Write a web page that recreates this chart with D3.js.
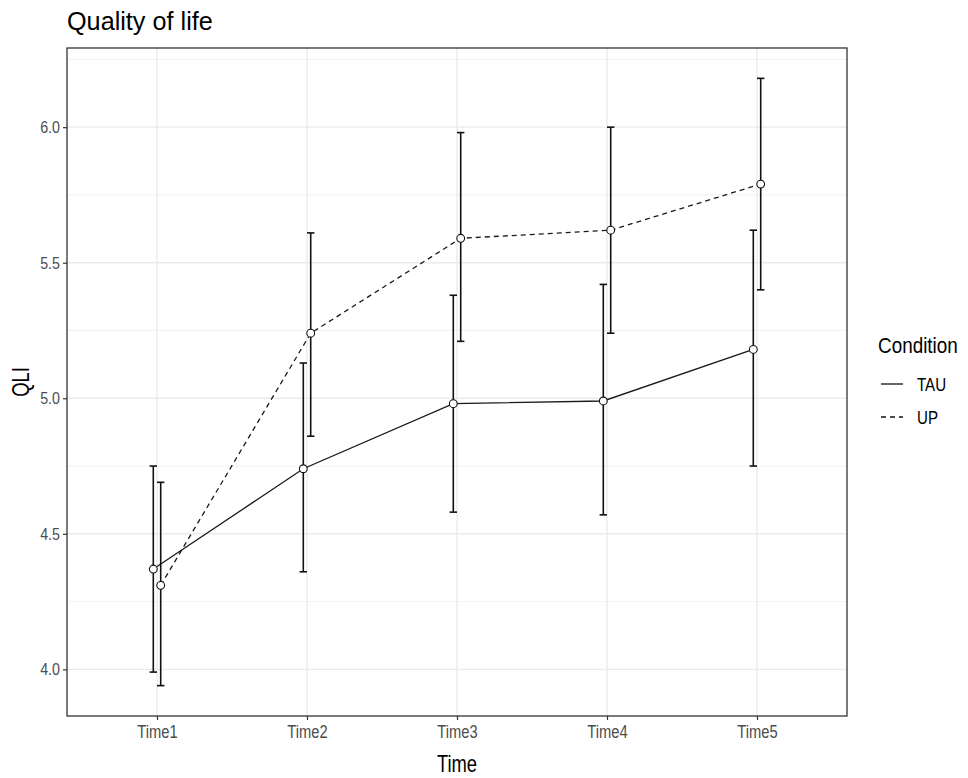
<!DOCTYPE html>
<html>
<head>
<meta charset="utf-8">
<script src="https://cdn.jsdelivr.net/npm/d3@7"></script>
<style>
  body { margin: 0; background: #fff; }
  svg { display: block; font-family: "Liberation Sans", Arial, sans-serif; }
</style>
</head>
<body>
<svg id="chart" width="968" height="778"></svg>
<script>
const times = ["Time1", "Time2", "Time3", "Time4", "Time5"];
const conditions = ["TAU", "UP"];
const tauMean = [4.37, 4.74, 4.98, 4.99, 5.18];
const tauLow  = [3.99, 4.36, 4.58, 4.57, 4.75];
const tauHigh = [4.75, 5.13, 5.38, 5.42, 5.62];
const upMean  = [4.31, 5.24, 5.59, 5.62, 5.79];
const upLow   = [3.94, 4.86, 5.21, 5.24, 5.40];
const upHigh  = [4.69, 5.61, 5.98, 6.00, 6.18];
const yTicks = [4.0, 4.5, 5.0, 5.5, 6.0];
const yMinor = [4.25, 4.75, 5.25, 5.75, 6.25];

const series = [
  { name: "TAU", mean: tauMean, low: tauLow, high: tauHigh, dash: null, offset: -3.7 },
  { name: "UP",  mean: upMean,  low: upLow,  high: upHigh,  dash: "5,4", offset: 3.7 }
];

const SX = 0.84; // horizontal condensing of text to match reference rendering

const svg = d3.select("#chart");
const panel = { left: 67, right: 847, top: 48, bottom: 716 };

const allVals = [...tauLow, ...tauHigh, ...upLow, ...upHigh];
const lo = d3.min(allVals), hi = d3.max(allVals);
const pad = (hi - lo) * 0.05;
const y = d3.scaleLinear().domain([lo - pad, hi + pad]).range([panel.bottom, panel.top]);
const x = d3.scalePoint().domain(times).range([panel.left, panel.right]).padding(0.6);

function ctext(parent, tx, ty, str, size, anchor, sx, fill) {
  return parent.append("text")
    .attr("transform", `translate(${tx},${ty}) scale(${sx},1)`)
    .attr("text-anchor", anchor || "start")
    .attr("fill", fill || "#000")
    .style("font-size", size + "px")
    .text(str);
}

// grid
const g = svg.append("g");
g.selectAll(".minor").data(yMinor.filter(v => v > y.domain()[0] && v < y.domain()[1])).join("line")
  .attr("x1", panel.left).attr("x2", panel.right)
  .attr("y1", d => y(d)).attr("y2", d => y(d))
  .attr("stroke", "#ededed").attr("stroke-width", 0.8);
g.selectAll(".majorY").data(yTicks).join("line")
  .attr("x1", panel.left).attr("x2", panel.right)
  .attr("y1", d => y(d)).attr("y2", d => y(d))
  .attr("stroke", "#ebebeb").attr("stroke-width", 1.4);
g.selectAll(".majorX").data(times).join("line")
  .attr("y1", panel.top).attr("y2", panel.bottom)
  .attr("x1", d => x(d)).attr("x2", d => x(d))
  .attr("stroke", "#ebebeb").attr("stroke-width", 1.4);

// error bars and lines
series.forEach(s => {
  const pts = times.map((t, i) => ({ t, i, cx: x(t) + s.offset }));
  const eb = svg.append("g");
  eb.selectAll("line.v").data(pts).join("line")
    .attr("x1", d => d.cx).attr("x2", d => d.cx)
    .attr("y1", d => y(s.low[d.i])).attr("y2", d => y(s.high[d.i]))
    .attr("stroke", "#111").attr("stroke-width", 1.6);
  ["low", "high"].forEach(k => {
    eb.selectAll("line.c" + k).data(pts).join("line")
      .attr("x1", d => d.cx - 3.7).attr("x2", d => d.cx + 3.7)
      .attr("y1", d => y(s[k][d.i])).attr("y2", d => y(s[k][d.i]))
      .attr("stroke", "#111").attr("stroke-width", 1.6);
  });
  const line = d3.line().x(d => d.cx).y(d => y(s.mean[d.i]));
  svg.append("path").datum(pts).attr("d", line)
    .attr("fill", "none").attr("stroke", "#1a1a1a").attr("stroke-width", 1.3)
    .attr("stroke-dasharray", s.dash);
});
// points
series.forEach(s => {
  const pts = times.map((t, i) => ({ t, i, cx: x(t) + s.offset }));
  svg.append("g").selectAll("circle").data(pts).join("circle")
    .attr("cx", d => d.cx).attr("cy", d => y(s.mean[d.i])).attr("r", 3.9)
    .attr("fill", "#fff").attr("stroke", "#111").attr("stroke-width", 1.1);
});

// panel border
svg.append("rect").attr("x", panel.left).attr("y", panel.top)
  .attr("width", panel.right - panel.left).attr("height", panel.bottom - panel.top)
  .attr("fill", "none").attr("stroke", "#333").attr("stroke-width", 1.3);

// axes
const yAxis = svg.append("g").attr("transform", `translate(${panel.left},0)`)
  .call(d3.axisLeft(y).tickValues(yTicks).tickFormat(d3.format(".1f")).tickSize(4).tickPadding(3));
yAxis.select(".domain").remove();
yAxis.selectAll(".tick line").attr("stroke", "#333").attr("stroke-width", 1.2);
yAxis.selectAll(".tick text").attr("fill", "#4d4d4d").style("font-size", "17px")
  .attr("transform", `scale(${SX},1)`).attr("x", -7 / SX);

const xAxis = svg.append("g").attr("transform", `translate(0,${panel.bottom})`)
  .call(d3.axisBottom(x).tickSize(4).tickPadding(6));
xAxis.select(".domain").remove();
xAxis.selectAll(".tick line").attr("stroke", "#333").attr("stroke-width", 1.2);
xAxis.selectAll(".tick text").attr("fill", "#4d4d4d").style("font-size", "17.5px")
  .attr("transform", `scale(${SX},1)`);

// titles
ctext(svg, 67, 30, "Quality of life", 26, "start", 0.97, "#000");
ctext(svg, (panel.left + panel.right) / 2, 772, "Time", 23, "middle", 0.8, "#000");
svg.append("text")
  .attr("transform", `translate(29,${(panel.top + panel.bottom) / 2}) rotate(-90) scale(0.8,1)`)
  .attr("text-anchor", "middle").style("font-size", "23px").text("QLI");

// legend
const leg = svg.append("g");
ctext(leg, 878, 353, "Condition", 22.5, "start", SX, "#000");
series.forEach((s, i) => {
  const ly = 384 + i * 33;
  leg.append("line").attr("x1", 881).attr("x2", 903).attr("y1", ly).attr("y2", ly)
    .attr("stroke", "#111").attr("stroke-width", 1.3).attr("stroke-dasharray", s.dash);
  ctext(leg, 917, ly + 7, conditions[i], 18, "start", SX, "#000");
});
</script>
</body>
</html>
